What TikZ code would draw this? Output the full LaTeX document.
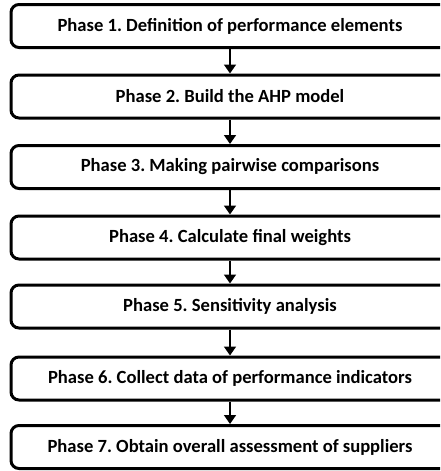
\documentclass[tikz,border=0pt]{standalone}
\usepackage{fontspec}
\setmainfont{Carlito}
\usetikzlibrary{arrows.meta}
\begin{document}
\frenchspacing
\begin{tikzpicture}[x=1pt,y=-1pt,
  phasebox/.style={draw=black, line width=3pt, rounded corners=8pt, fill=white,
    minimum width=438pt, minimum height=43pt, inner sep=0pt,
    font=\fontsize{18.6}{20}\selectfont\bfseries},
  flow/.style={line width=1.6pt, -{Triangle[length=9pt,width=12pt]}}]
\useasboundingbox (0,0) rectangle (440,471);
\begin{scope}
\clip (0,0) rectangle (440,471);
\node[phasebox] (p1) at (230,26) {Phase 1. Definition of performance elements};
\node[phasebox] (p2) at (230,96.5) {Phase 2. Build the AHP model};
\node[phasebox] (p3) at (230,167) {Phase 3. Making pairwise comparisons};
\node[phasebox] (p4) at (230,237.5) {Phase 4. Calculate final weights};
\node[phasebox] (p5) at (230,306.5) {Phase 5. Sensitivity analysis};
\node[phasebox] (p6) at (230,378.5) {Phase 6. Collect data of performance indicators};
\node[phasebox] (p7) at (230,447) {Phase 7. Obtain overall assessment of suppliers};
\draw[flow] (p1.south) -- (p2.north);
\draw[flow] (p2.south) -- (p3.north);
\draw[flow] (p3.south) -- (p4.north);
\draw[flow] (p4.south) -- (p5.north);
\draw[flow] (p5.south) -- (p6.north);
\draw[flow] (p6.south) -- (p7.north);
\end{scope}
\end{tikzpicture}
\end{document}
